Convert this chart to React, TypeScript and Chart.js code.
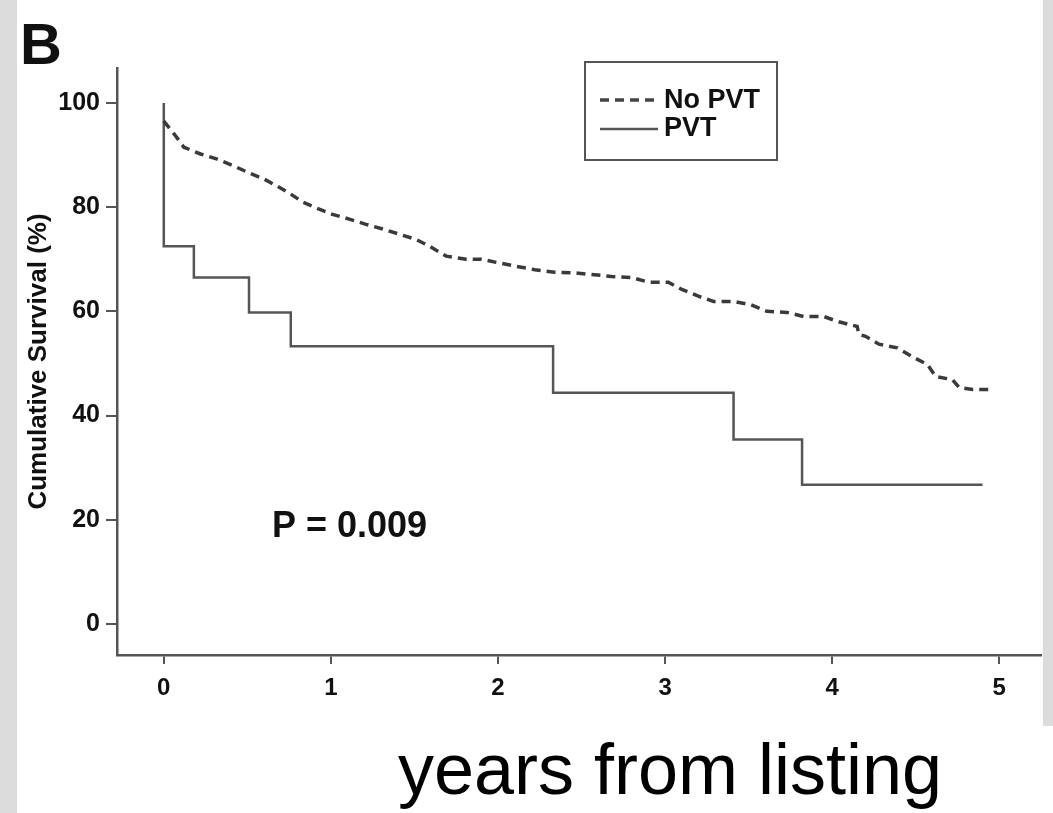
import React, { useEffect, useRef } from "react";
import { Chart, registerables } from "chart.js";

Chart.register(...registerables);

// Kaplan-Meier survival, years from listing
const pvtTimes = [0, 0, 0.18, 0.51, 0.76, 2.33, 3.41, 3.82, 4.9];
const pvtSurvival = [100, 72.5, 66.5, 59.8, 53.3, 44.4, 35.4, 26.7, 26.7];

const noPvtTimes = [
  0, 0.07, 0.12, 0.22, 0.32, 0.42, 0.5, 0.6, 0.68, 0.76, 0.83, 0.93, 1.01, 1.11,
  1.21, 1.31, 1.41, 1.51, 1.59, 1.69, 1.81, 1.9, 1.99, 2.1, 2.22, 2.34, 2.46, 2.55,
  2.68, 2.8, 2.9, 3.02, 3.1, 3.2, 3.29, 3.41, 3.51, 3.61, 3.73, 3.83, 3.95, 4.04,
  4.15, 4.16, 4.2, 4.28, 4.39, 4.48, 4.57, 4.62, 4.72, 4.76, 4.84, 4.94,
];
const noPvtSurvival = [
  96.5, 93.7, 91.5, 90.2, 89.2, 87.9, 86.7, 85.4, 84, 82.5, 81, 79.6, 78.6, 77.7,
  76.7, 75.8, 74.8, 73.8, 72.5, 70.6, 70, 70, 69.4, 68.7, 68, 67.5, 67.4, 67.1,
  66.7, 66.5, 65.6, 65.6, 64.2, 62.9, 61.9, 61.9, 61.3, 60, 59.8, 59, 59, 58,
  57.1, 55.6, 55.2, 53.7, 53, 51.3, 49.8, 47.5, 46.9, 45.4, 45, 45,
];

const xTicks = [0, 1, 2, 3, 4, 5];
const yTicks = [0, 20, 40, 60, 80, 100];

const seriesLabels = ["No PVT", "PVT"];
const panelLabel = "B";
const pValueText = "P = 0.009";
const xTitle = "years from listing";
const yTitle = "Cumulative Survival (%)";

const FONT = "'Liberation Sans', Arial, sans-serif";
const AXIS = "#555";

const overlayPlugin = {
  id: "overlay",
  afterDraw(chart: any) {
    const ctx = chart.ctx as CanvasRenderingContext2D;
    ctx.save();
    // panel label
    ctx.fillStyle = "#111";
    ctx.textAlign = "left";
    ctx.textBaseline = "alphabetic";
    ctx.font = `bold 58px ${FONT}`;
    ctx.fillText(panelLabel, 20, 64);
    // p value
    ctx.font = `bold 36px ${FONT}`;
    ctx.fillText(pValueText, 272, 537);
    // legend box
    ctx.strokeStyle = AXIS;
    ctx.lineWidth = 2;
    ctx.strokeRect(585, 62, 192, 98);
    ctx.setLineDash([9, 6]);
    ctx.lineWidth = 3.5;
    ctx.strokeStyle = "#444";
    ctx.beginPath();
    ctx.moveTo(600, 100);
    ctx.lineTo(658, 100);
    ctx.stroke();
    ctx.setLineDash([]);
    ctx.lineWidth = 2.5;
    ctx.strokeStyle = AXIS;
    ctx.beginPath();
    ctx.moveTo(600, 129);
    ctx.lineTo(658, 129);
    ctx.stroke();
    ctx.fillStyle = "#111";
    ctx.font = `bold 27px ${FONT}`;
    ctx.textBaseline = "middle";
    ctx.fillText(seriesLabels[0], 664, 101);
    ctx.fillText(seriesLabels[1], 664, 129);
    // x title
    ctx.fillStyle = "#000";
    ctx.font = `72px ${FONT}`;
    ctx.textAlign = "center";
    ctx.textBaseline = "alphabetic";
    ctx.fillText(xTitle, 670, 794);
    ctx.restore();
  },
};

export default function App() {
  const ref = useRef<HTMLCanvasElement | null>(null);

  useEffect(() => {
    if (!ref.current) return;
    const chart = new Chart(ref.current, {
      type: "scatter",
      data: {
        datasets: [
          {
            label: seriesLabels[0],
            data: noPvtTimes.map((t, i) => ({ x: t, y: noPvtSurvival[i] })),
            showLine: true,
            borderColor: "#3a3a3a",
            borderWidth: 3.5,
            borderDash: [9, 6],
            pointRadius: 0,
            fill: false,
          },
          {
            label: seriesLabels[1],
            data: pvtTimes.map((t, i) => ({ x: t, y: pvtSurvival[i] })),
            showLine: true,
            stepped: "before",
            borderColor: AXIS,
            borderWidth: 2.5,
            pointRadius: 0,
            fill: false,
          },
        ],
      },
      options: {
        responsive: false,
        animation: false,
        layout: { padding: { left: 23, top: 68, right: 12, bottom: 0 } },
        plugins: {
          legend: { display: false },
          tooltip: { enabled: false },
        },
        scales: {
          x: {
            type: "linear",
            min: -0.28,
            max: 5.25,
            afterBuildTicks: (scale: any) => {
              scale.ticks = xTicks.map((v) => ({ value: v }));
            },
            afterFit: (scale: any) => {
              scale.height = 158;
            },
            border: { display: true, color: AXIS, width: 2.5 },
            grid: {
              drawOnChartArea: false,
              drawTicks: true,
              tickLength: 9,
              color: AXIS,
              lineWidth: 2,
            },
            ticks: {
              padding: 10,
              color: "#111",
              font: { family: FONT, size: 24, weight: "bold" },
              maxRotation: 0,
              callback: (v: any) => String(v),
            },
          },
          y: {
            type: "linear",
            min: -5.95,
            max: 106.7,
            afterBuildTicks: (scale: any) => {
              scale.ticks = yTicks.map((v) => ({ value: v }));
            },
            afterFit: (scale: any) => {
              scale.width = 94;
            },
            border: { display: true, color: AXIS, width: 2.5 },
            grid: {
              drawOnChartArea: false,
              drawTicks: true,
              tickLength: 11,
              color: AXIS,
              lineWidth: 2,
            },
            title: {
              display: true,
              text: yTitle,
              color: "#111",
              padding: 0,
              font: { family: FONT, size: 26, weight: "bold" },
            },
            ticks: {
              padding: 6,
              color: "#111",
              font: { family: FONT, size: 25, weight: "bold" },
              callback: (v: any) => String(v),
            },
          },
        },
      },
      plugins: [overlayPlugin],
    } as any);
    return () => chart.destroy();
  }, []);

  return (
    <div
      style={{
        position: "absolute",
        left: 0,
        top: 0,
        width: 1053,
        height: 813,
        background: "#dcdcdc",
        overflow: "hidden",
      }}
    >
      <div style={{ position: "absolute", left: 17, top: 0, width: 1026, height: 813, background: "#fff" }} />
      <div style={{ position: "absolute", left: 1043, top: 726, width: 10, height: 87, background: "#fff" }} />
      <canvas
        ref={ref}
        width={1053}
        height={813}
        style={{ position: "absolute", left: 0, top: 0, width: 1053, height: 813 }}
      />
    </div>
  );
}
